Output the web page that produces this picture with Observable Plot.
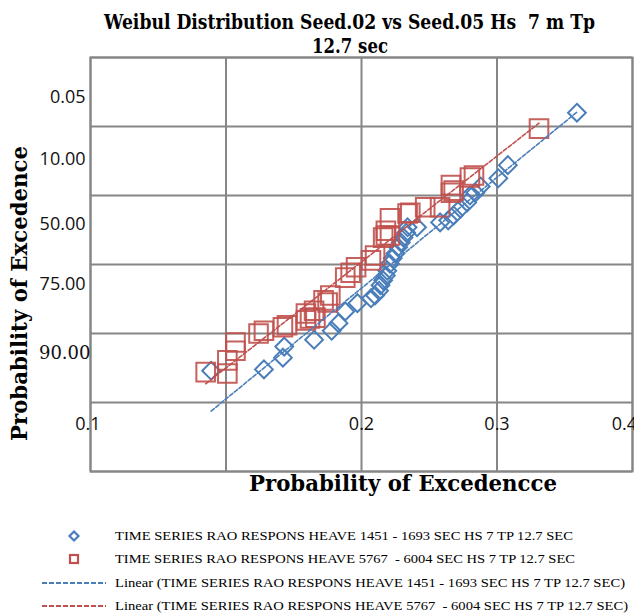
<!DOCTYPE html>
<html><head><meta charset="utf-8">
<script src="https://cdn.jsdelivr.net/npm/d3@7"></script>
<script src="https://cdn.jsdelivr.net/npm/@observablehq/plot@0.6"></script>
<style>
html,body{margin:0;padding:0;background:#fff;}
#chart{width:634px;height:615px;overflow:hidden;}
</style></head><body><div id="chart"></div>
<script>
// Series 1 (blue diamonds), in grid units
const blueX = [0.89,1.28,1.42,1.43,1.65,1.78,1.83,1.88,1.97,2.07,2.10,2.13,2.14,2.16,2.18,2.19,2.21,2.23,2.25,2.27,2.29,2.31,2.33,2.34,2.41,2.58,2.64,2.68,2.73,2.78,2.80,2.84,2.88,3.01,3.08,3.59];
const blueY = [1.46,1.48,1.65,1.81,1.91,2.04,2.15,2.32,2.44,2.51,2.55,2.62,2.70,2.77,2.84,2.91,3.01,3.09,3.16,3.25,3.32,3.39,3.46,3.54,3.54,3.61,3.64,3.71,3.81,3.90,4.00,4.04,4.13,4.25,4.44,5.20];
// Series 2 (red squares)
const redX = [0.85,1.01,1.01,1.07,1.07,1.24,1.28,1.42,1.45,1.59,1.62,1.66,1.59,1.65,1.72,1.75,1.77,1.88,1.92,1.96,2.07,2.10,2.16,2.18,2.18,2.21,2.21,2.34,2.36,2.47,2.58,2.66,2.66,2.68,2.80,2.83,3.31];
const redY = [1.44,1.42,1.61,1.75,1.87,2.00,2.04,2.09,2.12,2.19,2.22,2.23,2.29,2.33,2.48,2.45,2.55,2.81,2.88,2.96,3.06,3.13,3.39,3.42,3.49,3.42,3.67,3.74,3.75,3.83,3.83,4.04,4.15,4.07,4.26,4.29,4.97];

const gridXAt = [0,1,2,3,4];
const gridYAt = [0,1,2,3,4,5,6];
const xTickAt = [-0.02, 2.0, 3.0, 3.94];
const xTickLabels = ["0.1","0.2","0.3","0.4"];
const yTickAt = [5.42, 4.52, 3.59, 2.71, 1.72];
const yTickLabels = ["0.05","10.00","50.00","75.00","90.00"];

const titleLines = ["Weibul Distribution Seed.02 vs Seed.05 Hs  7 m Tp", "12.7 sec"];
const xTitle = "Probability of Excedencce";
const yTitle = "Probability of Excedence";
const seriesNames = [
  "TIME SERIES RAO RESPONS HEAVE 1451 - 1693 SEC HS 7 TP 12.7 SEC",
  "TIME SERIES RAO RESPONS HEAVE 5767  - 6004 SEC HS 7 TP 12.7 SEC"
];
const trendNames = seriesNames.map(s => "Linear (" + s + ")");

const BLUE = "#4A7EBB", RED = "#C0504D", GRID = "#868686";

const blue = blueX.map((x, i) => ({x, y: blueY[i]}));
const red = redX.map((x, i) => ({x, y: redY[i]}));

const plot = Plot.plot({
  width: 634, height: 615,
  marginTop: 57, marginBottom: 144, marginLeft: 90, marginRight: 2,
  x: {domain: [0, 4], axis: null},
  y: {domain: [0, 6], axis: null},
  style: {fontFamily: "'Open Sans', sans-serif", background: "#fff"},
  marks: [
    Plot.gridX(gridXAt, {stroke: GRID, strokeOpacity: 1, strokeWidth: 2}),
    Plot.gridY(gridYAt, {stroke: GRID, strokeOpacity: 1, strokeWidth: 2}),
    Plot.frame({stroke: GRID, strokeWidth: 2}),
    Plot.dot(blue, {x: "x", y: "y", symbol: "diamond2", r: 8, stroke: BLUE, strokeWidth: 2, fill: "none"}),
    Plot.dot(red, {x: "x", y: "y", symbol: "square", r: 10.5, stroke: RED, strokeWidth: 2, strokeOpacity: 0.9, fill: "none"}),
    Plot.linearRegressionY(blue, {x: "x", y: "y", stroke: BLUE, ci: 0, strokeWidth: 1.6, strokeDasharray: "4,2"}),
    Plot.linearRegressionY(red, {x: "x", y: "y", stroke: RED, ci: 0, strokeWidth: 1.6, strokeDasharray: "4,2"}),
    Plot.text(xTickLabels, {x: (d, i) => xTickAt[i], frameAnchor: "bottom", dy: -42, fontSize: 18, fill: "#111"}),
    Plot.text(yTickLabels, {filter: d => d !== "90.00", y: (d, i) => yTickAt[i], frameAnchor: "left", dx: -5, textAnchor: "end", fontSize: 18, fill: "#111"}),
    Plot.text(yTickLabels, {filter: d => d === "90.00", y: (d, i) => yTickAt[i], frameAnchor: "left", dx: 0, textAnchor: "end", fontSize: 18, fontFamily: "'DejaVu Serif', serif", fill: "#111"})
  ]
});
document.getElementById("chart").appendChild(plot);

const svg = d3.select(plot);
function addText(str, x, y, opts) {
  const t = svg.append("text")
    .attr("x", 0).attr("y", 0)
    .attr("transform", `translate(${x},${y})` + (opts.rotate ? ` rotate(${opts.rotate})` : ""))
    .attr("font-family", opts.family)
    .attr("font-size", opts.size)
    .attr("font-weight", opts.weight || "normal")
    .attr("fill", "#000")
    .attr("text-anchor", "start")
    .style("white-space", "pre")
    .attr("xml:space", "preserve")
    .text(str);
  if (opts.len) t.attr("textLength", opts.len).attr("lengthAdjust", "spacingAndGlyphs");
  return t;
}
const SERIF_B = "'DejaVu Serif', serif";
addText(titleLines[0], 104, 29, {family: SERIF_B, size: 20, weight: "bold", len: 491});
addText(titleLines[1], 312, 53, {family: SERIF_B, size: 20, weight: "bold", len: 76});
addText(xTitle, 249, 491, {family: SERIF_B, size: 22, weight: "bold", len: 308});
addText(yTitle, 27, 441, {family: SERIF_B, size: 22, weight: "bold", len: 295, rotate: -90});

// legend
const LEG = "'Liberation Serif', 'Times New Roman', serif";
const rowY = [536, 559, 583, 606];
const lg = svg.append("g");
// diamond
lg.append("path").attr("d", `M74,${rowY[0]-4.5}L78.5,${rowY[0]}L74,${rowY[0]+4.5}L69.5,${rowY[0]}Z`)
  .attr("fill", "none").attr("stroke", BLUE).attr("stroke-width", 2.2);
lg.append("rect").attr("x", 70).attr("y", rowY[1]-4).attr("width", 8).attr("height", 8)
  .attr("fill", "none").attr("stroke", RED).attr("stroke-width", 2.2);
[BLUE, RED].forEach((c, i) => {
  lg.append("line").attr("x1", 42).attr("x2", 106).attr("y1", rowY[2+i]).attr("y2", rowY[2+i])
    .attr("stroke", c).attr("stroke-width", 2).attr("stroke-dasharray", "5,2");
});
const legTexts = [seriesNames[0], seriesNames[1], trendNames[0], trendNames[1]];
const legLens = [458, 460, 510, 513];
legTexts.forEach((s, i) => addText(s, 115, rowY[i] + 4, {family: LEG, size: 11.5, len: legLens[i]}));
</script>
</body></html>
